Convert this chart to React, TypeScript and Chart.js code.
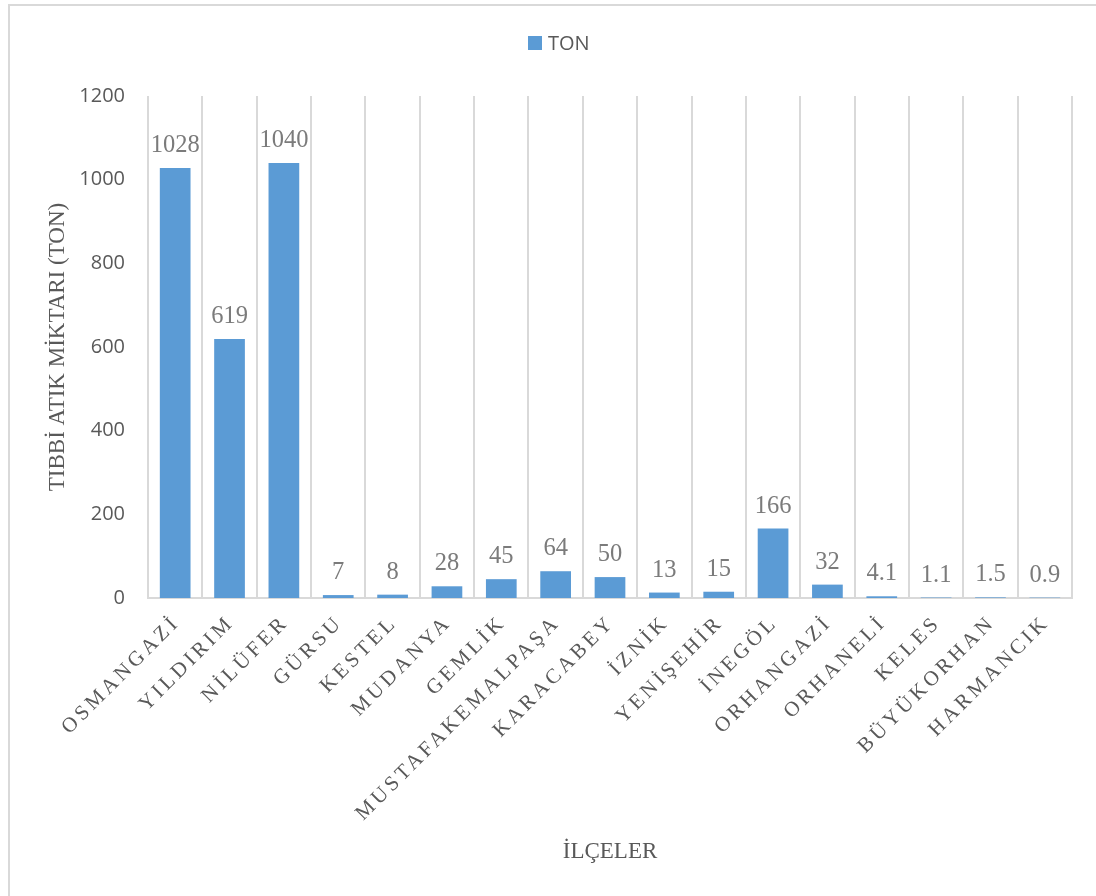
import React, { useEffect, useRef } from "react";
import { Chart, registerables } from "chart.js";

Chart.register(...registerables);

const categories = [
  "OSMANGAZİ",
  "YILDIRIM",
  "NİLÜFER",
  "GÜRSU",
  "KESTEL",
  "MUDANYA",
  "GEMLİK",
  "MUSTAFAKEMALPAŞA",
  "KARACABEY",
  "İZNİK",
  "YENİŞEHİR",
  "İNEGÖL",
  "ORHANGAZİ",
  "ORHANELİ",
  "KELES",
  "BÜYÜKORHAN",
  "HARMANCIK",
];
const tonValues = [1028, 619, 1040, 7, 8, 28, 45, 64, 50, 13, 15, 166, 32, 4.1, 1.1, 1.5, 0.9];
const dataLabels = ["1028", "619", "1040", "7", "8", "28", "45", "64", "50", "13", "15", "166", "32", "4.1", "1.1", "1.5", "0.9"];
const seriesName = "TON";
const yAxisTitle = "TIBBİ ATIK MİKTARI (TON)";
const xAxisTitle = "İLÇELER";
const yMin = 0;
const yMax = 1200;
const yStep = 200;

const BAR_COLOR = "#5b9bd5";
const TEXT_GRAY = "#595959";
const LABEL_GRAY = "#7b7b7b";
const GRID = "#d9d9d9";
const SERIF = "'Liberation Serif', 'Times New Roman', serif";
const SANS = "'Open Sans', 'Noto Sans', sans-serif";

const W = 1088;
const H = 892;

const decorPlugin = {
  id: "decor",
  beforeDraw(chart: any) {
    const { ctx, width, height } = chart;
    ctx.save();
    ctx.fillStyle = "#ffffff";
    ctx.fillRect(0, 0, width, height);
    ctx.strokeStyle = GRID;
    ctx.lineWidth = 2;
    ctx.beginPath();
    ctx.moveTo(1, height);
    ctx.lineTo(1, 1);
    ctx.lineTo(width, 1);
    ctx.stroke();
    ctx.restore();
  },
  afterDraw(chart: any) {
    const { ctx } = chart;
    // legend
    ctx.save();
    ctx.fillStyle = BAR_COLOR;
    ctx.fillRect(520, 32, 14, 14);
    ctx.fillStyle = TEXT_GRAY;
    ctx.font = `20px ${SANS}`;
    ctx.textBaseline = "middle";
    ctx.textAlign = "left";
    ctx.fillText(seriesName, 540, 40);
    ctx.restore();

    // data labels
    const meta = chart.getDatasetMeta(0);
    ctx.save();
    ctx.fillStyle = LABEL_GRAY;
    ctx.font = `24.5px ${SERIF}`;
    ctx.textAlign = "center";
    ctx.textBaseline = "alphabetic";
    meta.data.forEach((el: any, i: number) => {
      ctx.fillText(dataLabels[i], el.x, el.y - 16);
    });
    ctx.restore();

    // rotated category labels
    const xs = chart.scales.x;
    const axisY = chart.chartArea.bottom;
    const spacing = 3.5;
    ctx.save();
    ctx.fillStyle = TEXT_GRAY;
    ctx.font = `21px ${SERIF}`;
    try {
      (ctx as any).letterSpacing = `${spacing}px`;
    } catch (e) {}
    ctx.textBaseline = "middle";
    ctx.textAlign = "left";
    categories.forEach((label, i) => {
      const x = xs.getPixelForValue(i) - 1;
      const y = axisY + 24;
      const w = ctx.measureText(label).width;
      ctx.save();
      ctx.translate(x, y);
      ctx.rotate(-Math.PI / 4);
      ctx.fillText(label, -(w - spacing), 0);
      ctx.restore();
    });
    ctx.restore();
  },
};

export default function App() {
  const canvasRef = useRef<HTMLCanvasElement | null>(null);

  useEffect(() => {
    const canvas = canvasRef.current;
    if (!canvas) return;
    const chart = new Chart(canvas, {
      type: "bar",
      data: {
        labels: categories,
        datasets: [
          {
            label: seriesName,
            data: tonValues,
            backgroundColor: BAR_COLOR,
            borderWidth: 0,
            barPercentage: 0.565,
            categoryPercentage: 1.0,
          },
        ],
      },
      options: {
        responsive: false,
        animation: false,
        devicePixelRatio: 1,
        layout: { padding: { top: 92, left: 0, right: 24, bottom: 0 } },
        plugins: {
          legend: { display: false },
          tooltip: { enabled: false },
        },
        scales: {
          x: {
            afterFit: (scale: any) => {
              scale.height = 298;
            },
            grid: {
              display: true,
              offset: true,
              color: GRID,
              lineWidth: 2,
              drawTicks: false,
            },
            border: { display: true, color: GRID, width: 2 },
            ticks: { display: false },
            title: {
              display: true,
              text: xAxisTitle,
              color: TEXT_GRAY,
              font: { family: SERIF, size: 23 },
              padding: { top: 0, bottom: 30 },
            },
          },
          y: {
            min: yMin,
            max: yMax,
            afterFit: (scale: any) => {
              scale.width = 140;
            },
            grid: { display: false, drawTicks: false },
            border: { display: false },
            ticks: {
              stepSize: yStep,
              color: TEXT_GRAY,
              font: { family: SANS, size: 20 },
              padding: 23,
              callback: (v: any) => String(v),
            },
            title: {
              display: true,
              text: yAxisTitle,
              color: TEXT_GRAY,
              font: { family: SERIF, size: 23 },
              padding: { top: 36, bottom: 0 },
            },
          },
        },
      },
      plugins: [decorPlugin],
    });
    return () => chart.destroy();
  }, []);

  return (
    <div style={{ position: "fixed", left: 8, top: 4, width: W, height: H }}>
      <canvas ref={canvasRef} width={W} height={H} style={{ width: W, height: H, display: "block" }} />
    </div>
  );
}
